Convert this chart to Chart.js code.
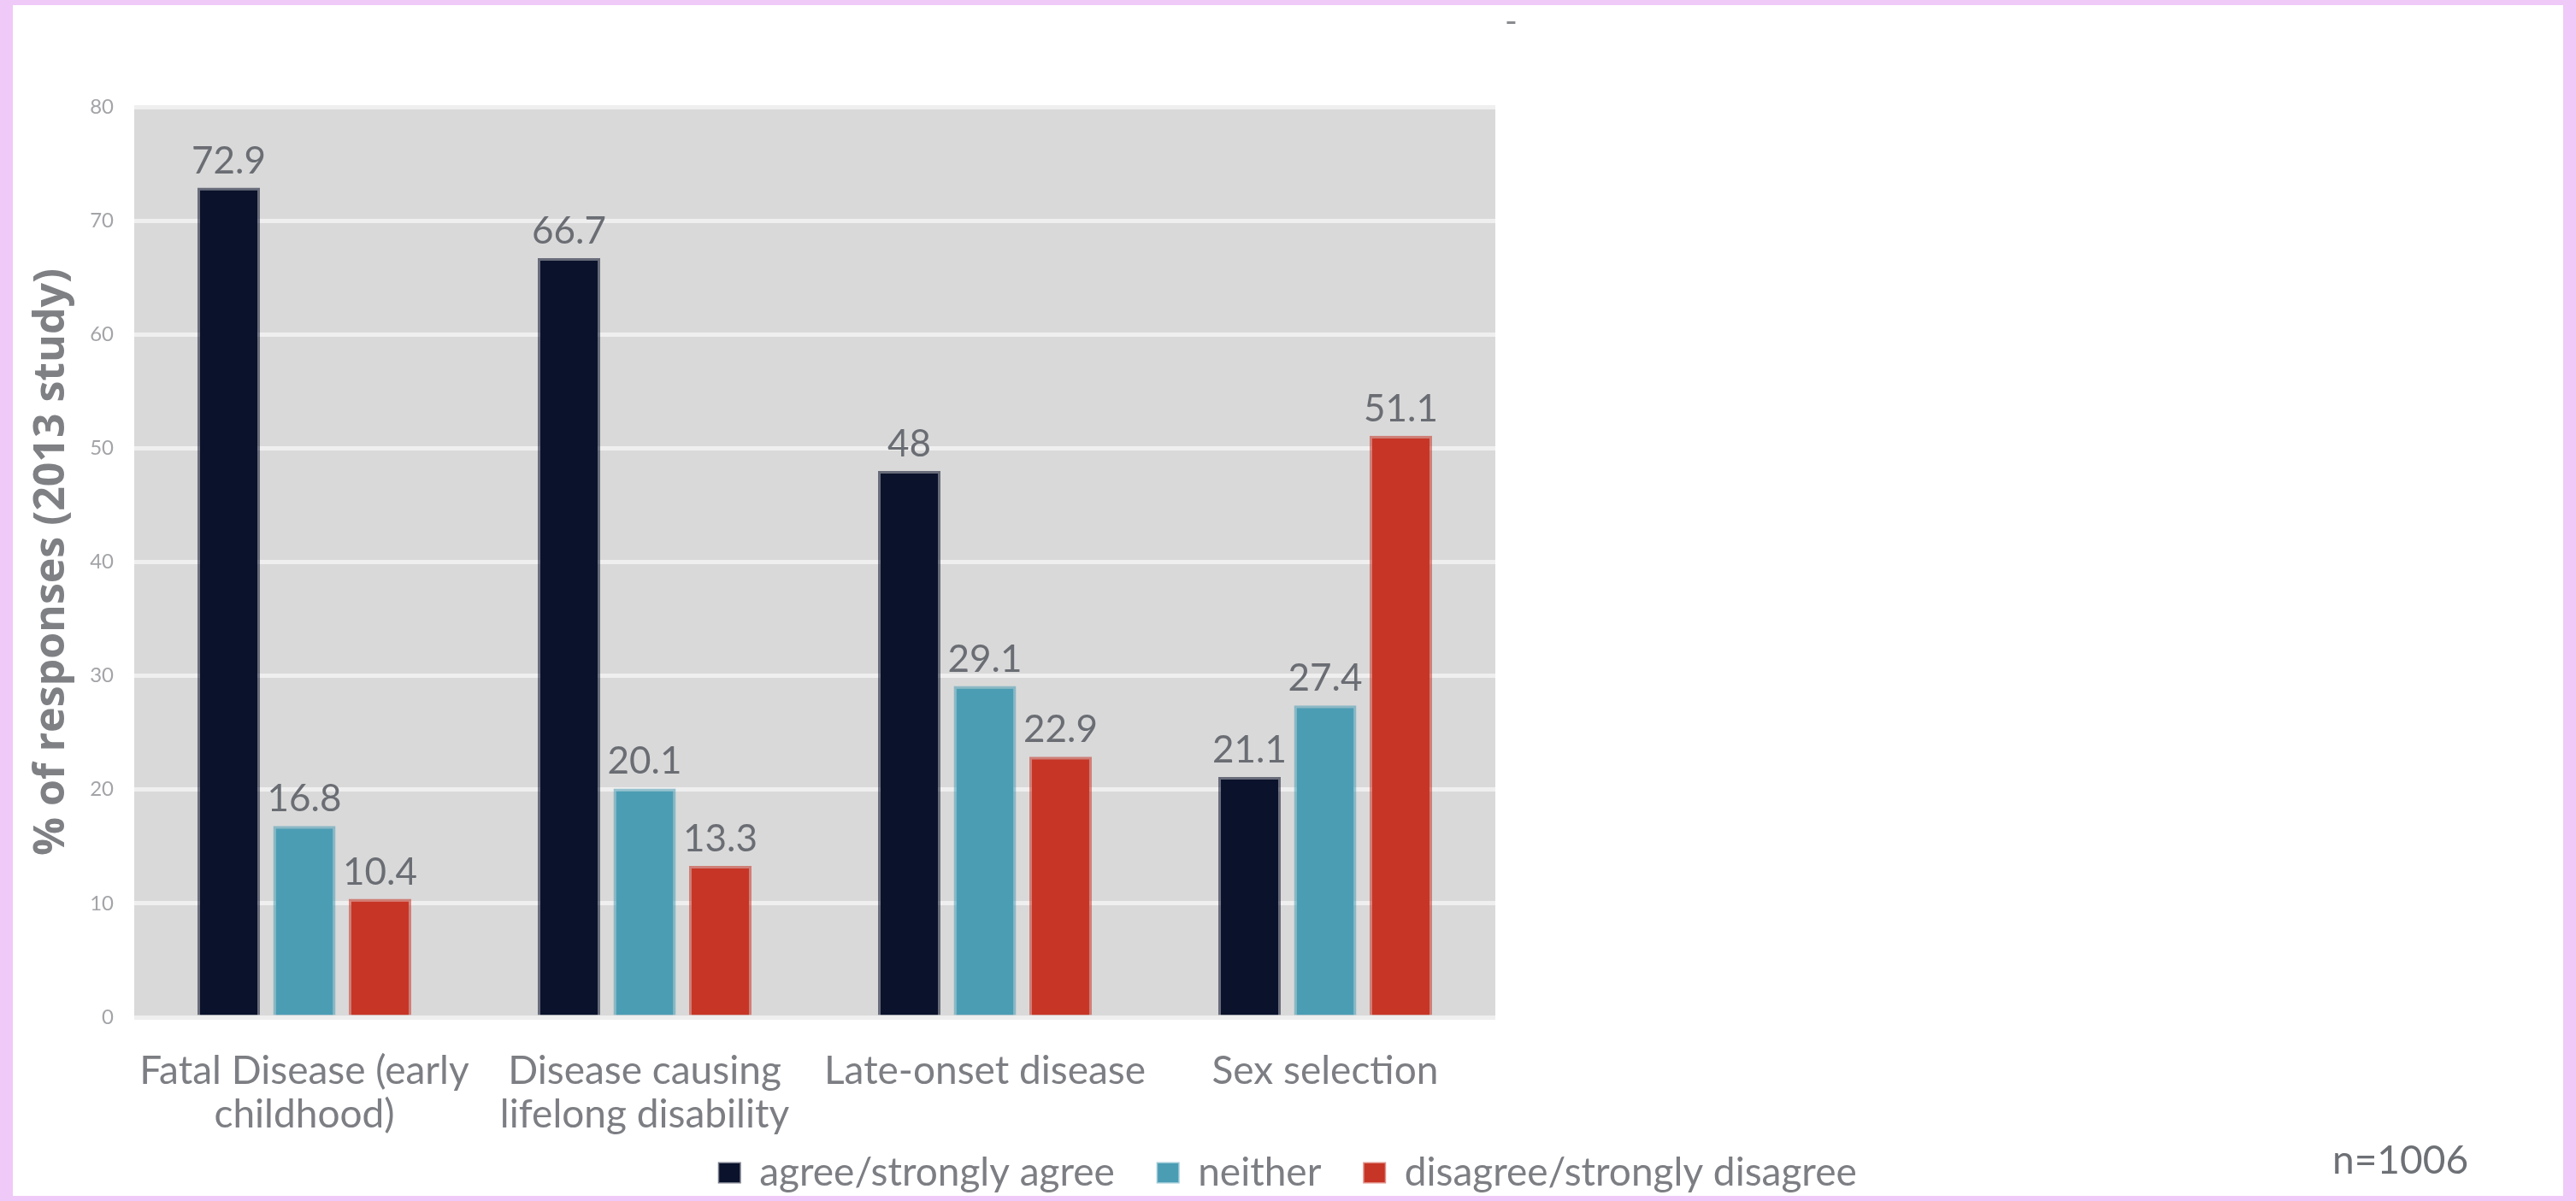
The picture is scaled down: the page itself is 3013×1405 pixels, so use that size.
<!DOCTYPE html>
<html><head><meta charset="utf-8">
<script src="https://cdn.jsdelivr.net/npm/chart.js@4.4.1/dist/chart.umd.min.js"></script>
<style>
html,body{margin:0;padding:0;background:#efc9f7;width:3013px;height:1405px;overflow:hidden}
#card{position:absolute;left:15px;top:6px;width:2983px;height:1393px;background:#fff;overflow:hidden}
canvas{display:block}
</style></head><body><div id="card"><canvas id="c" width="2983" height="1420"></canvas></div>
<script>
const categories = [["Fatal Disease (early","childhood)"],["Disease causing","lifelong disability"],"Late-onset disease","Sex selection"];
const seriesNames = ["agree/strongly agree","neither","disagree/strongly disagree"];
const agreeValues = [72.9, 66.7, 48, 21.1];
const neitherValues = [16.8, 20.1, 29.1, 27.4];
const disagreeValues = [10.4, 13.3, 22.9, 51.1];
const yTicks = [0, 10, 20, 30, 40, 50, 60, 70, 80];
const yTitle = "% of responses (2013 study)";
const noteText = "n=1006";
const topMark = "-";

const FONT = "Lato";
const colors = ["#0b122b", "#4b9db4", "#c73526"];
const borders = ["rgba(11,18,43,0.55)", "rgba(75,157,180,0.55)", "rgba(199,53,38,0.55)"];
const legendGap = "   ";

const bgPlugin = {
  id: 'plotBg',
  beforeDraw(chart) {
    const {ctx, chartArea: a} = chart;
    ctx.save();
    ctx.fillStyle = '#d9d9d9';
    ctx.fillRect(a.left, a.top, a.right - a.left, a.bottom - a.top);
    ctx.restore();
  }
};
const valuePlugin = {
  id: 'values',
  afterDatasetsDraw(chart) {
    const ctx = chart.ctx;
    ctx.save();
    ctx.font = "44px " + FONT;
    ctx.fillStyle = '#6a6d73';
    ctx.textAlign = 'center';
    ctx.textBaseline = 'alphabetic';
    chart.data.datasets.forEach((ds, i) => {
      chart.getDatasetMeta(i).data.forEach((el, j) => {
        ctx.fillText(String(ds.data[j]), el.x, el.y - 17);
      });
    });
    ctx.restore();
  }
};
const notePlugin = {
  id: 'note',
  afterDraw(chart) {
    const ctx = chart.ctx;
    ctx.save();
    ctx.font = "46px " + FONT;
    ctx.fillStyle = '#6d7075';
    ctx.textAlign = 'left';
    ctx.textBaseline = 'alphabetic';
    ctx.fillText(noteText, 2713, 1367);
    ctx.fillStyle = '#8a8c90';
    ctx.font = "40px " + FONT;
    ctx.fillText(topMark, 1745, 33);
    ctx.restore();
  }
};

new Chart(document.getElementById('c'), {
  type: 'bar',
  data: {
    labels: categories,
    datasets: [
      {label: seriesNames[0], data: agreeValues, backgroundColor: colors[0], borderColor: borders[0], borderWidth: 3},
      {label: seriesNames[1], data: neitherValues, backgroundColor: colors[1], borderColor: borders[1], borderWidth: 3},
      {label: seriesNames[2], data: disagreeValues, backgroundColor: colors[2], borderColor: borders[2], borderWidth: 3}
    ]
  },
  options: {
    responsive: false,
    devicePixelRatio: 1,
    animation: false,
    datasets: {bar: {categoryPercentage: 0.667, barPercentage: 0.825}},
    layout: {padding: {top: 119, left: 0, right: 0, bottom: 21}},
    plugins: {
      tooltip: {enabled: false},
      legend: {
        position: 'bottom',
        labels: {
          font: {family: FONT, size: 46},
          color: '#7c7e83',
          boxWidth: 24,
          boxHeight: 22,
          padding: 15,
          generateLabels: chart => Chart.defaults.plugins.legend.labels.generateLabels(chart).map((it, i, arr) => {
            if (i < arr.length - 1) it.text = it.text + legendGap;
            return it;
          })
        }
      }
    },
    scales: {
      x: {
        grid: {display: false},
        border: {display: false},
        ticks: {font: {family: FONT, size: 46, lineHeight: 1.109}, color: '#7c7e83', padding: 30, maxRotation: 0, autoSkip: false},
        afterFit: s => { s.height = 144; }
      },
      y: {
        min: 0, max: 80,
        afterBuildTicks: s => { s.ticks = yTicks.map(v => ({value: v})); },
        grid: {color: '#efefef', lineWidth: 5, drawTicks: false},
        border: {display: false},
        ticks: {font: {family: FONT, size: 24}, color: '#a3a4a8', padding: 24},
        title: {display: true, text: yTitle, font: {family: "Open Sans", size: 50, weight: 'bold'}, color: '#7f8084', padding: {top: 16, bottom: 0}},
        afterFit: s => { s.width = 142; }
      },
      yR: {
        type: 'linear',
        position: 'right',
        grid: {display: false},
        border: {display: false},
        ticks: {display: false},
        afterFit: s => { s.width = 1249; }
      }
    }
  },
  plugins: [bgPlugin, valuePlugin, notePlugin]
});
</script></body></html>
